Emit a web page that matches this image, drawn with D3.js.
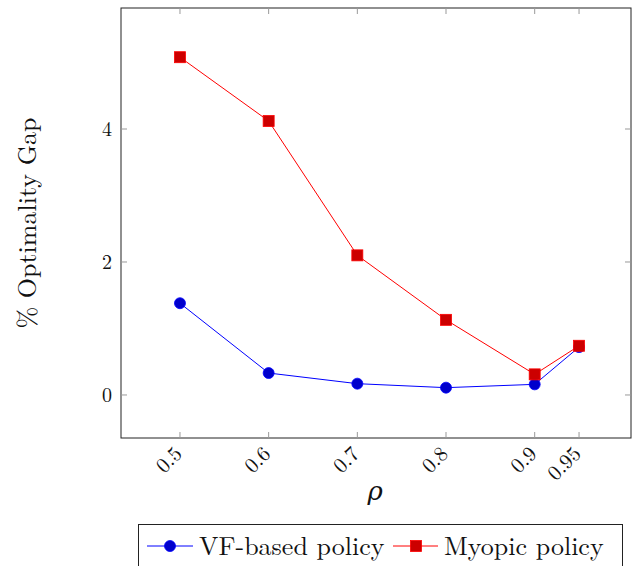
<!DOCTYPE html>
<html><head><meta charset="utf-8">
<script src="https://cdn.jsdelivr.net/npm/d3@7"></script>
<style>body{margin:0;background:#fff;} svg{display:block;}</style>
</head><body>
<svg id="c" width="632" height="566"></svg>
<script>
const rhoValues = [0.5, 0.6, 0.7, 0.8, 0.9, 0.95];
const xTickLabels = ["0.5", "0.6", "0.7", "0.8", "0.9", "0.95"];
const vfPolicy = [1.38, 0.33, 0.17, 0.11, 0.16, 0.72];
const myopicPolicy = [5.08, 4.12, 2.10, 1.13, 0.31, 0.74];
const yTicks = [0, 2, 4];
const seriesNames = ["VF-based policy", "Myopic policy"];

const svg = d3.select("#c");
const L = 121, R = 631, T = 8, B = 438;
const x = d3.scaleLinear().domain([0.4335, 1.0086]).range([L, R]);
const y = d3.scaleLinear().domain([-0.647, 5.82]).range([B, T]);

const serif = "Latin Modern Roman, CMU Serif, DejaVu Serif, serif";
svg.append("rect").attr("x", L).attr("y", T).attr("width", R - L).attr("height", B - T)
  .attr("fill", "none").attr("stroke", "#222").attr("stroke-width", 1);

const tc = "#999";
rhoValues.forEach(v => {
  svg.append("line").attr("x1", x(v)).attr("x2", x(v)).attr("y1", B).attr("y2", B - 6).attr("stroke", tc);
  svg.append("line").attr("x1", x(v)).attr("x2", x(v)).attr("y1", T).attr("y2", T + 6).attr("stroke", tc);
});
yTicks.forEach(v => {
  svg.append("line").attr("x1", L).attr("x2", L + 6).attr("y1", y(v)).attr("y2", y(v)).attr("stroke", tc);
  svg.append("line").attr("x1", R).attr("x2", R - 6).attr("y1", y(v)).attr("y2", y(v)).attr("stroke", tc);
  svg.append("text").attr("x", L - 9).attr("y", y(v)).attr("dy", "0.35em").attr("text-anchor", "end")
    .attr("font-family", serif).attr("font-size", 20).attr("fill", "#111").text(v);
});
rhoValues.forEach((v, i) => {
  svg.append("text").attr("transform", `translate(${x(v) - 8},${B + 6}) rotate(-45)`)
    .attr("text-anchor", "end").attr("dy", "0.75em")
    .attr("font-family", serif).attr("font-size", 21).attr("fill", "#111").text(xTickLabels[i]);
});

svg.append("text").attr("transform", `translate(36,${(T + B) / 2}) rotate(-90)`)
  .attr("text-anchor", "middle").attr("font-family", serif).attr("font-size", 26).attr("fill", "#111")
  .text("% Optimality Gap");
svg.append("text").attr("x", x(0.72)).attr("y", 500).attr("text-anchor", "middle")
  .attr("font-family", serif).attr("font-style", "italic").attr("font-size", 26).attr("fill", "#111").text("ρ");

const line = d3.line().x((d, i) => x(rhoValues[i])).y(d => y(d));
svg.append("path").datum(vfPolicy).attr("d", line).attr("fill", "none").attr("stroke", "#0000ff").attr("stroke-width", 1);
svg.append("path").datum(myopicPolicy).attr("d", line).attr("fill", "none").attr("stroke", "#ff0000").attr("stroke-width", 1);

svg.selectAll(".vf").data(vfPolicy).enter().append("circle")
  .attr("cx", (d, i) => x(rhoValues[i])).attr("cy", d => y(d)).attr("r", 5.5)
  .attr("fill", "#0000cc").attr("stroke", "#0000ff").attr("stroke-width", 0.8);
svg.selectAll(".my").data(myopicPolicy).enter().append("rect")
  .attr("x", (d, i) => x(rhoValues[i]) - 5.5).attr("y", d => y(d) - 5.5).attr("width", 11).attr("height", 11)
  .attr("fill", "#cc0000").attr("stroke", "#ff0000").attr("stroke-width", 0.8);

const lg = svg.append("g");
lg.append("rect").attr("x", 138.5).attr("y", 524.5).attr("width", 484).attr("height", 50)
  .attr("fill", "#fff").attr("stroke", "#222");
const ly = 546;
lg.append("line").attr("x1", 147).attr("x2", 193).attr("y1", ly).attr("y2", ly).attr("stroke", "#0000ff");
lg.append("circle").attr("cx", 170).attr("cy", ly).attr("r", 5.5).attr("fill", "#0000cc").attr("stroke", "#0000ff").attr("stroke-width", 0.8);
lg.append("text").attr("x", 199).attr("y", ly).attr("dy", "0.35em").attr("font-family", serif).attr("font-size", 26).attr("fill", "#111").text(seriesNames[0]);
lg.append("line").attr("x1", 393).attr("x2", 438).attr("y1", ly).attr("y2", ly).attr("stroke", "#ff0000");
lg.append("rect").attr("x", 410.5).attr("y", ly - 5.5).attr("width", 11).attr("height", 11).attr("fill", "#cc0000").attr("stroke", "#ff0000").attr("stroke-width", 0.8);
lg.append("text").attr("x", 444).attr("y", ly).attr("dy", "0.35em").attr("font-family", serif).attr("font-size", 26).attr("fill", "#111").text(seriesNames[1]);
</script>
</body></html>
